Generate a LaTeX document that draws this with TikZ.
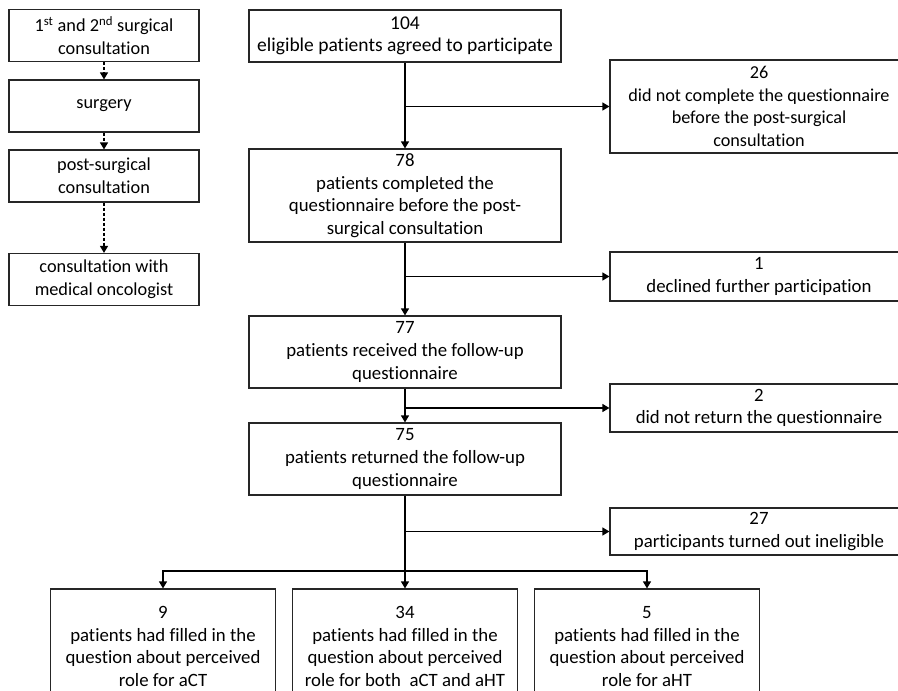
\documentclass[tikz,border=0pt]{standalone}
\usepackage{fontspec}
\setmainfont{Carlito}[Ligatures=NoCommon]
\usetikzlibrary{arrows.meta}
\newcommand{\fsize}[1]{\fontsize{#1}{22.6}\selectfont}

\begin{document}
\begin{tikzpicture}[x=1pt,y=-1pt,
		box/.style={draw=black!85,line width=1.2pt,align=center,inner sep=2pt,font=\fsize{18.8}},
		leftbox/.style={box,minimum width=190pt,minimum height=52pt,font=\fsize{18.3}},
		mainbox/.style={box,minimum width=312pt},
		sidebox/.style={box,minimum width=298pt},
		endbox/.style={box,minimum width=225pt,minimum height=115pt},
		arr/.style={line width=1.2pt,-{Triangle[length=7pt,width=8pt]}},
		dasharr/.style={arr,dash pattern=on 3pt off 2pt}]
	\useasboundingbox (0,0) rectangle (898,691);
	\clip (0,0) rectangle (898,691);
	% time line on the left
	\node[leftbox] (consult)  at (104,35.5) {1\textsuperscript{st} and 2\textsuperscript{nd} surgical\\consultation};
	\node[leftbox] (surgery)  at (104,106)  {surgery};
	\node[leftbox] (postsurg) at (104,176)  {post-surgical\\consultation};
	\node[leftbox] (oncol)    at (104,279.5){consultation with\\medical oncologist};
	\path[draw,dasharr] (consult)  edge (surgery)
	                    (surgery)  edge (postsurg)
	                    (postsurg) edge (oncol);
	% flow of patients
	\node[mainbox,minimum height=52pt,font=\fsize{19.5}] (agreed) at (405,36) {104\\eligible patients agreed to participate};
	\node[mainbox,minimum height=93pt] (completed) at (405,195.5) {78\\patients completed the\\questionnaire before the post-\\surgical consultation};
	\node[mainbox,minimum height=72pt] (received)  at (405,352)   {77\\patients received the follow-up\\questionnaire};
	\node[mainbox,minimum height=72pt] (returned)  at (405,459)   {75\\patients returned the follow-up\\questionnaire};
	\node[sidebox,minimum height=93pt,font=\fsize{18.2}] (notcompl) at (759,106.5) {26\\did not complete the questionnaire\\before the post-surgical\\consultation};
	\node[sidebox,minimum height=49pt] (declined)  at (759,276.5) {1\\declined further participation};
	\node[sidebox,minimum height=48pt] (notret)    at (759,408)   {2\\did not return the questionnaire};
	\node[sidebox,minimum height=47pt] (inelig)    at (759,531.5) {27\\participants turned out ineligible};
	\node[endbox] (act)  at (163,646.5) {9\\patients had filled in the\\question about perceived\\role for aCT};
	\node[endbox] (both) at (405,646.5) {34\\patients had filled in the\\question about perceived\\role for both\ \ aCT and aHT};
	\node[endbox] (aht)  at (647,646.5) {5\\patients had filled in the\\question about perceived\\role for aHT};
	\coordinate (split) at (405,571);
	\path[draw,arr] (agreed)    edge (completed)
	                (completed) edge (received)
	                (received)  edge (returned)
	                (returned)  edge (both);
	\draw[arr] (agreed.south |- notcompl)    -- (notcompl);
	\draw[arr] (completed.south |- declined) -- (declined);
	\draw[arr] (received.south |- notret)    -- (notret);
	\draw[arr] (returned.south |- inelig)    -- (inelig);
	\draw[arr] (split) -| (act);
	\draw[arr] (split) -| (aht);
\end{tikzpicture}
\end{document}
